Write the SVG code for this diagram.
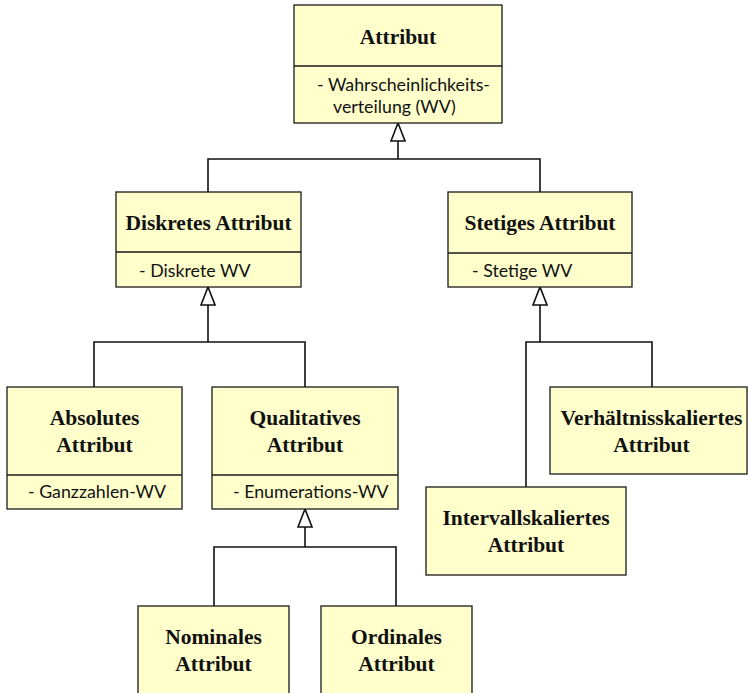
<svg xmlns="http://www.w3.org/2000/svg" width="748" height="693" viewBox="0 0 748 693">
  <style>
    .box { fill: #FFFFCC; stroke: #1a1a1a; stroke-width: 1.3; }
    .sep { stroke: #1a1a1a; stroke-width: 1.3; }
    .title { font-family: "Liberation Serif", "Times New Roman", serif; font-weight: bold; font-size: 21.5px; fill: #111; text-anchor: middle; }
    .attr { font-family: Lato, "Open Sans", sans-serif; font-size: 17.8px; fill: #111; }
    .conn { fill: none; stroke: #111; stroke-width: 1.6; }
  </style>
  <defs>
    <marker id="gen" viewBox="0 0 20 16" refX="19" refY="8" markerWidth="20" markerHeight="16" markerUnits="userSpaceOnUse" orient="auto">
      <path d="M1,1 L19,8 L1,15 Z" fill="#fff" stroke="#111" stroke-width="1.6"/>
    </marker>
  </defs>

  <!-- generalisation connectors -->
  <g id="connectors">
    <!-- Attribut -->
    <polyline class="conn" points="208,192 208,159 540,159 540,192"/>
    <line class="conn" x1="398" y1="159" x2="398" y2="123" marker-end="url(#gen)"/>
    <!-- Diskretes Attribut -->
    <polyline class="conn" points="94,387 94,342 305,342 305,387"/>
    <line class="conn" x1="208" y1="342" x2="208" y2="287" marker-end="url(#gen)"/>
    <!-- Stetiges Attribut -->
    <polyline class="conn" points="526,487 526,342 652,342 652,387"/>
    <line class="conn" x1="540" y1="342" x2="540" y2="287" marker-end="url(#gen)"/>
    <!-- Qualitatives Attribut -->
    <polyline class="conn" points="214,606 214,547 396,547 396,606"/>
    <line class="conn" x1="305" y1="547" x2="305" y2="509" marker-end="url(#gen)"/>
  </g>

  <g id="attribut">
    <rect class="box" x="294" y="5" width="208" height="118"/>
    <line class="sep" x1="294" y1="66" x2="502" y2="66"/>
    <text class="title" x="398" y="44">Attribut</text>
    <text class="attr" x="317" y="91">- Wahrscheinlichkeits-</text>
    <text class="attr" x="333" y="113">verteilung (WV)</text>
  </g>

  <g id="diskretes-attribut">
    <rect class="box" x="116" y="192" width="185" height="95"/>
    <line class="sep" x1="116" y1="252" x2="301" y2="252"/>
    <text class="title" x="208.5" y="230">Diskretes Attribut</text>
    <text class="attr" x="139" y="277">- Diskrete WV</text>
  </g>

  <g id="stetiges-attribut">
    <rect class="box" x="448" y="192" width="184" height="95"/>
    <line class="sep" x1="448" y1="253" x2="632" y2="253"/>
    <text class="title" x="540" y="230">Stetiges Attribut</text>
    <text class="attr" x="472" y="277">- Stetige WV</text>
  </g>

  <g id="absolutes-attribut">
    <rect class="box" x="7" y="387" width="175" height="122"/>
    <line class="sep" x1="7" y1="475" x2="182" y2="475"/>
    <text class="title" x="94.5" y="425">Absolutes</text>
    <text class="title" x="94.5" y="452">Attribut</text>
    <text class="attr" x="28" y="498">- Ganzzahlen-WV</text>
  </g>

  <g id="qualitatives-attribut">
    <rect class="box" x="212" y="387" width="186" height="122"/>
    <line class="sep" x1="212" y1="475" x2="398" y2="475"/>
    <text class="title" x="305" y="425">Qualitatives</text>
    <text class="title" x="305" y="452">Attribut</text>
    <text class="attr" x="233" y="498">- Enumerations-WV</text>
  </g>

  <g id="verhaeltnisskaliertes-attribut">
    <rect class="box" x="550" y="387" width="197" height="87"/>
    <text class="title" x="651.5" y="425">Verhältnisskaliertes</text>
    <text class="title" x="651.5" y="452">Attribut</text>
  </g>

  <g id="intervallskaliertes-attribut">
    <rect class="box" x="426" y="487" width="200" height="88"/>
    <text class="title" x="526" y="525">Intervallskaliertes</text>
    <text class="title" x="526" y="552">Attribut</text>
  </g>

  <g id="nominales-attribut">
    <rect class="box" x="138" y="606" width="151" height="100"/>
    <text class="title" x="213.5" y="644">Nominales</text>
    <text class="title" x="213.5" y="671">Attribut</text>
  </g>

  <g id="ordinales-attribut">
    <rect class="box" x="321" y="606" width="151" height="100"/>
    <text class="title" x="396.5" y="644">Ordinales</text>
    <text class="title" x="396.5" y="671">Attribut</text>
  </g>
</svg>
